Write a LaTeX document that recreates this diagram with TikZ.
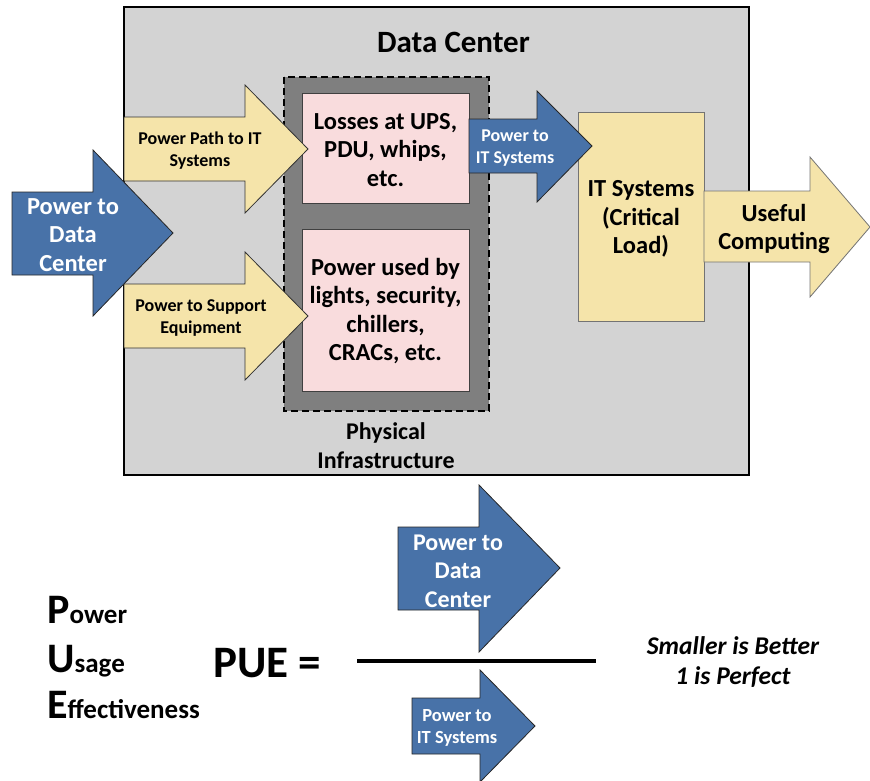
\documentclass[tikz,border=0pt]{standalone}
\usepackage{fontspec}
\setmainfont{Carlito}
\usepackage{tikz}
\usetikzlibrary{positioning}
\definecolor{dcgray}{HTML}{D3D3D3}
\definecolor{infragray}{HTML}{7F7F7F}
\definecolor{losspink}{HTML}{F9DCDD}
\definecolor{powerblue}{HTML}{4872A8}
\definecolor{flowyellow}{HTML}{F5E4AA}
\tikzstyle{blue_arrow}=[fill=powerblue, draw=black!85, line width=0.8pt, line join=miter]
\tikzstyle{yellow_arrow}=[fill=flowyellow, draw=black!80, line width=0.8pt, line join=miter]
\tikzstyle{loss_box}=[fill=losspink, draw=black!75, line width=1pt]
\tikzstyle{big_label}=[align=center, font=\bfseries\fontsize{24.5}{28.5}\selectfont]
\tikzstyle{small_label}=[align=center, font=\bfseries\fontsize{18}{22}\selectfont]
\tikzstyle{pue_word}=[anchor=base west, inner sep=0pt, font=\bfseries\fontsize{27}{30}\selectfont]

\begin{document}
\begin{tikzpicture}[x=1pt, y=-1pt]
              \useasboundingbox (0,0) rectangle (870,780);
              % data center
              \draw[fill=dcgray, draw=black, line width=2pt] (124,7) rectangle (749,475);
              \node[font=\bfseries\fontsize{31}{34}\selectfont] (dctitle) at (453.5,42) {Data Center};
              \draw[fill=infragray, draw=black, line width=1.3pt, dash pattern=on 7pt off 4pt] (284,77) rectangle (489,411);
              \draw[loss_box] (302,93) rectangle (469,203);
              \draw[loss_box] (302,229) rectangle (469,391);
              \node[big_label] (loss) at (385.5,150) {Losses at UPS,\\PDU, whips,\\etc.};
              \node[big_label] (support) at (385.5,311) {Power used by\\lights, security,\\chillers,\\CRACs, etc.};
              \node[big_label, font=\bfseries\fontsize{24}{29}\selectfont] (infra) at (386,446) {Physical\\Infrastructure};
              \draw[fill=flowyellow, draw=black!55, line width=0.8pt] (578,112) rectangle (704,321);
              \node[big_label] (itload) at (641,219) {IT Systems\\(Critical\\Load)};
              % arrows
              \draw[blue_arrow] (12,192) -- (93,192) -- (93,150) -- (173,233) -- (93,316) -- (93,275) -- (12,275) -- cycle;
              \node[big_label, text=white] (pdc) at (73,235) {Power to\\Data\\Center};
              \draw[yellow_arrow] (124,117) -- (245,117) -- (245,85) -- (308,149) -- (245,213) -- (245,181) -- (124,181) -- cycle;
              \node[small_label] (ppath) at (200,151) {Power Path to IT\\Systems};
              \draw[yellow_arrow] (124,284) -- (245,284) -- (245,252) -- (308,316) -- (245,380) -- (245,348) -- (124,348) -- cycle;
              \node[small_label] (psupport) at (201,318) {Power to Support\\Equipment};
              \draw[blue_arrow] (469,119) -- (537,119) -- (537,91) -- (592,146) -- (537,202) -- (537,173) -- (469,173) -- cycle;
              \node[small_label, text=white] (pit) at (515,148) {Power to\\IT Systems};
              \draw[yellow_arrow, draw=black!55] (704,191) -- (810,191) -- (810,157) -- (870,227) -- (810,297) -- (810,262) -- (704,262) -- cycle;
              \node[big_label] (useful) at (774,229) {Useful\\Computing};
              % pue
              \node[pue_word] (pw) at (47,623) {{\fontsize{42}{44}\selectfont P}ower};
              \node[pue_word] (us) at (47,672) {{\fontsize{42}{44}\selectfont U}sage};
              \node[pue_word] (ef) at (47,718) {{\fontsize{42}{44}\selectfont E}ffectiveness};
              \node[anchor=base west, inner sep=0pt, font=\bfseries\fontsize{45}{48}\selectfont] (pue) at (213,677) {PUE =};
              \draw[blue_arrow] (398,527) -- (479,527) -- (479,485) -- (560,568) -- (479,652) -- (479,610) -- (398,610) -- cycle;
              \node[big_label, text=white, font=\bfseries\fontsize{24}{28.5}\selectfont] (num) at (458,571) {Power to\\Data\\Center};
              \coordinate (fracL) at (357,661);
              \coordinate (fracR) at (596,661);
              \draw[line width=3.5pt] (fracL) -- (fracR);
              \draw[blue_arrow] (412,698) -- (480,698) -- (480,670) -- (535,726) -- (480,782) -- (480,754) -- (412,754) -- cycle;
              \node[small_label, text=white, font=\bfseries\fontsize{18.5}{22.5}\selectfont] (den) at (457,728) {Power to\\IT Systems};
              \node[align=center, font=\bfseries\itshape\fontsize{25.5}{30}\selectfont] (note) at (733,662) {Smaller is Better\\1 is Perfect};
            \end{tikzpicture}
\end{document}
